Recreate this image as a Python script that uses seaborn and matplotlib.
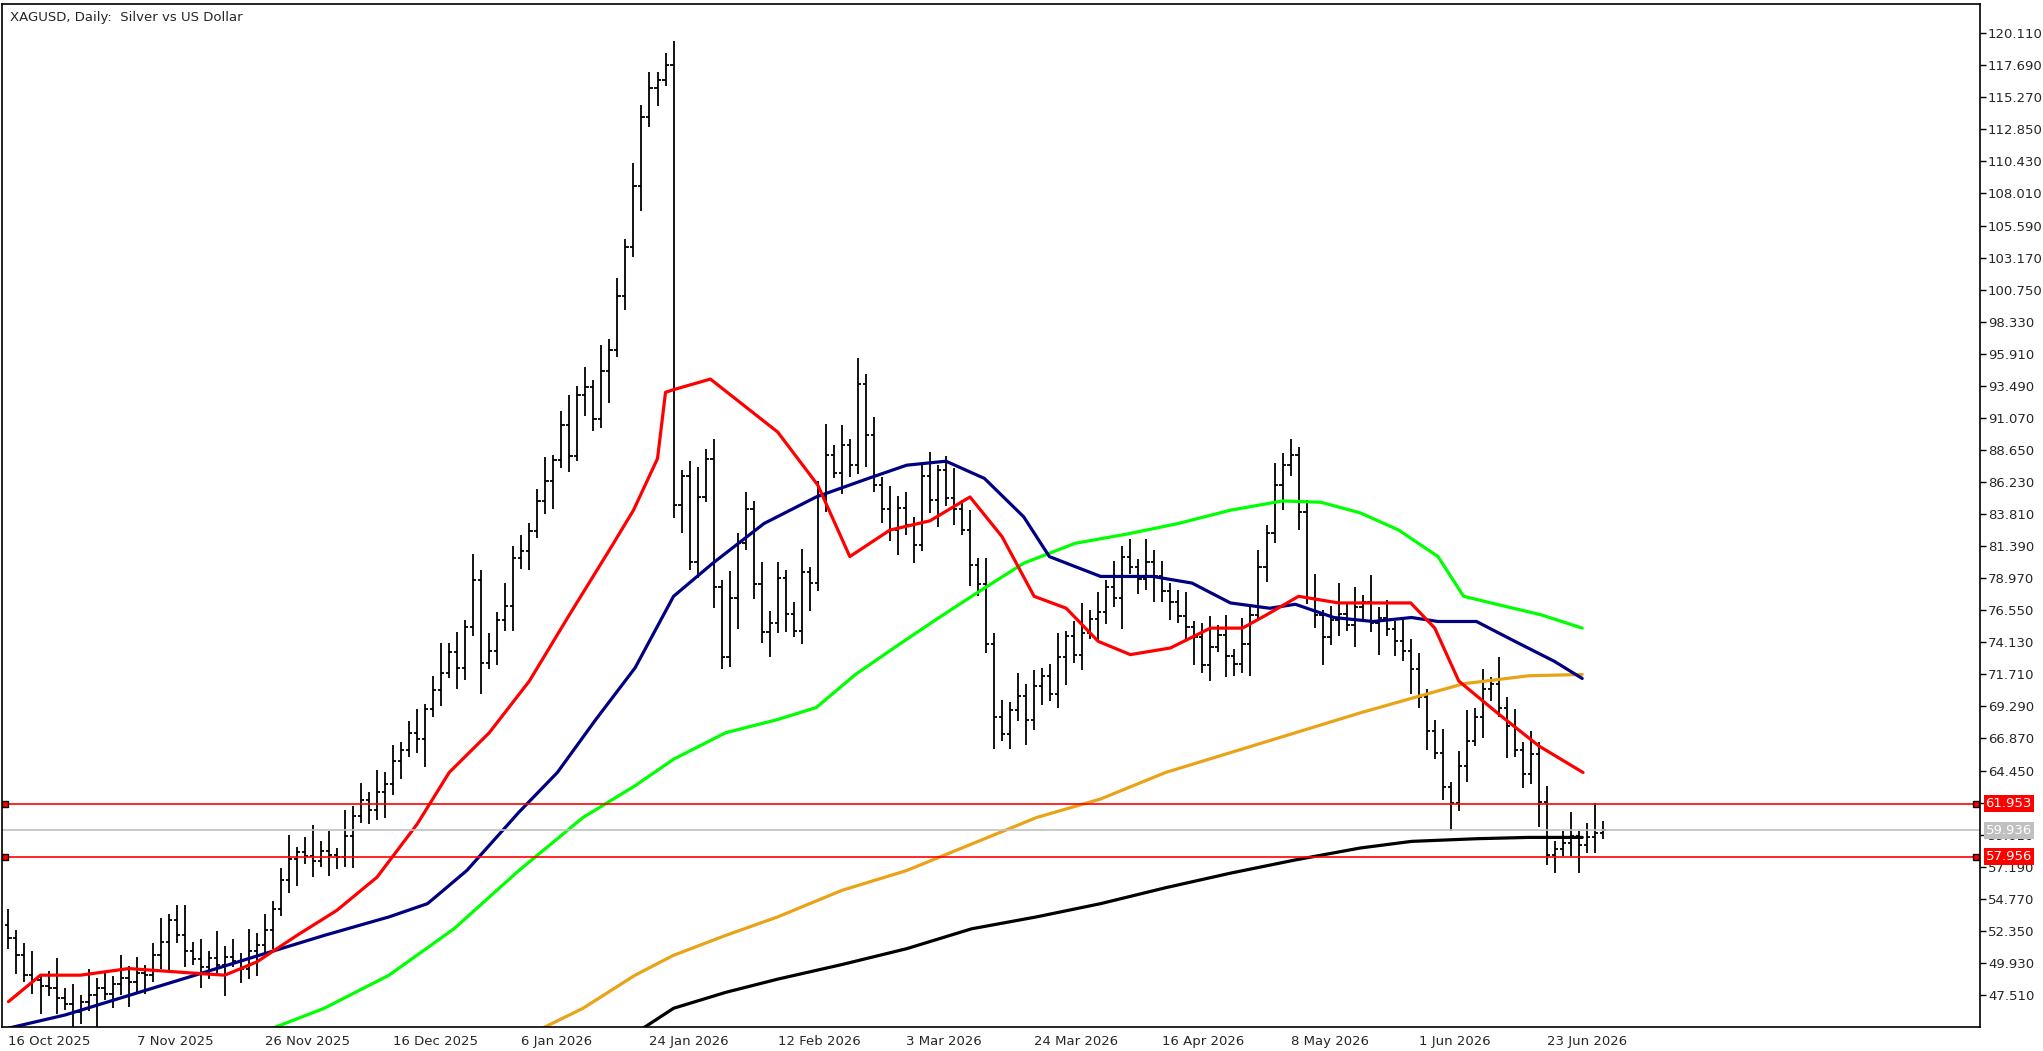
import numpy as np
import pandas as pd
import matplotlib
matplotlib.use('Agg')
import matplotlib.pyplot as plt
import seaborn as sns

# Daily closes of XAGUSD
closes = [51.8, 50.5, 49.0, 48.6, 48.2, 48.0, 47.3, 46.8, 46.2, 47.0, 47.5, 48.0, 47.6, 48.3, 48.8, 48.5,
          49.2, 49.0, 50.5, 51.5, 53.2, 52.0, 50.8, 50.2, 49.6, 50.3, 49.8, 50.4, 50.1, 49.5, 50.8, 51.3,
          52.4, 54.0, 56.2, 57.8, 58.3, 58.0, 57.6, 58.4, 58.1, 57.9, 59.5, 61.0, 62.2, 61.5, 62.8, 63.4,
          65.2, 66.0, 67.3, 66.8, 69.1, 70.5, 71.8, 73.4, 72.2, 75.3, 78.8, 72.6, 73.5, 75.8, 76.9, 80.5,
          81.0, 82.5, 84.8, 86.3, 87.9, 90.5, 88.2, 92.8, 93.4, 91.0, 94.6, 96.2, 100.3, 104.0, 108.6, 113.8,
          116.0, 116.6, 117.7, 84.5, 86.7, 80.2, 85.1, 88.0, 78.3, 73.0, 77.5, 81.6, 84.2, 78.5, 74.9, 75.6,
          79.0, 76.3, 75.0, 79.4, 78.6, 85.2, 88.3, 86.9, 89.0, 87.5, 93.6, 89.8, 86.0, 84.2, 82.6, 84.3,
          83.0, 81.5, 86.7, 84.9, 87.1, 85.0, 84.2, 82.6, 80.0, 78.5, 74.0, 68.5, 67.2, 69.0, 70.1, 68.3,
          70.8, 71.6, 70.2, 73.0, 74.6, 73.2, 74.8, 75.9, 76.4, 78.3, 77.5, 80.6, 79.8, 78.9, 80.2, 79.1,
          78.0, 77.2, 76.1, 75.3, 74.5, 72.4, 73.8, 74.7, 73.1, 72.5, 74.0, 76.2, 79.8, 82.4, 86.0, 87.5,
          88.3, 84.0, 77.5, 76.2, 74.5, 75.8, 76.3, 75.4, 76.8, 77.2, 75.6, 76.0, 75.1, 74.2, 73.5, 72.1,
          70.0, 67.4, 65.8, 63.2, 62.0, 64.8, 66.7, 68.5, 70.6, 71.0, 69.2, 67.8, 66.0, 64.2, 65.7, 62.1,
          58.1, 58.5, 59.0, 59.5, 58.8, 59.4, 59.7, 59.94]
first_open = 52.8
wick_up = [1.2, 0.6, 0.9, 1.8, 0.4, 1.1, 2.3, 0.7, 1.5, 0.5, 2.0, 0.8, 1.3, 0.6, 1.7, 0.9]
wick_dn = [0.8, 1.4, 0.5, 1.0, 2.1, 0.6, 1.2, 0.4, 1.6, 0.9, 0.7, 2.4, 0.5, 1.1, 0.8, 1.9]

# Moving averages: (bar index, price) samples
red_x = [0, 4, 9, 15, 22, 27, 31, 36, 41, 46, 51, 55, 60, 65, 70, 75, 78, 81, 82, 83, 87.6, 96, 101, 105,
         110, 115, 120, 124, 128, 132, 136, 140, 145, 150, 154, 157, 161, 166, 170, 175, 178, 181, 186, 191, 196.5]
red_y = [47.0, 49.0, 49.0, 49.5, 49.2, 49.0, 50.0, 52.0, 53.9, 56.4, 60.4, 64.3, 67.3, 71.2, 76.2, 81.1, 84.1,
         88.0, 93.0, 93.2, 94.0, 90.0, 86.0, 80.6, 82.6, 83.3, 85.1, 82.1, 77.6, 76.7, 74.2, 73.2, 73.7, 75.2,
         75.2, 76.2, 77.6, 77.1, 77.1, 77.1, 75.2, 71.2, 68.7, 66.3, 64.3]
blue_x = [0, 7.1, 15.2, 23.3, 31.3, 39.4, 47.5, 52.3, 57.2, 63.7, 68.5, 73.3, 78.2, 83.0, 87.9, 94.3, 100.8,
          107.3, 112.1, 117.0, 121.8, 126.7, 129.9, 136.3, 142.8, 147.7, 152.5, 157.4, 160.6, 165.4, 170.3,
          175.1, 178.4, 183.2, 188.0, 192.9, 196.4]
blue_y = [45.0, 46.0, 47.5, 49.0, 50.5, 52.0, 53.4, 54.4, 56.9, 61.3, 64.3, 68.3, 72.2, 77.6, 80.1, 83.1, 85.1,
          86.5, 87.5, 87.8, 86.5, 83.6, 80.6, 79.1, 79.1, 78.6, 77.1, 76.7, 77.0, 76.0, 75.7, 76.0, 75.7,
          75.7, 74.2, 72.7, 71.4]
green_x = [31.3, 39.4, 47.5, 55.6, 63.7, 71.7, 78.2, 83.0, 89.5, 96.0, 100.8, 105.7, 110.5, 115.4, 120.2,
           126.7, 133.1, 139.6, 146.0, 152.5, 159.0, 163.8, 168.7, 173.5, 178.4, 181.6, 186.4, 191.3, 196.4]
green_y = [44.6, 46.5, 49.0, 52.5, 56.9, 60.9, 63.3, 65.3, 67.3, 68.3, 69.2, 71.7, 73.7, 75.7, 77.6, 80.1,
           81.6, 82.3, 83.1, 84.1, 84.8, 84.7, 83.9, 82.6, 80.6, 77.6, 76.9, 76.2, 75.2]
orange_x = [65.3, 71.7, 78.2, 83.0, 89.5, 96.0, 104.0, 112.1, 120.2, 128.3, 136.3, 144.4, 152.5, 160.6,
            168.7, 175.1, 181.6, 189.7, 196.4]
orange_y = [44.6, 46.5, 49.0, 50.5, 52.0, 53.4, 55.4, 56.9, 58.9, 60.9, 62.3, 64.3, 65.8, 67.3, 68.8, 69.9,
            71.0, 71.6, 71.7]
black_x = [78.2, 83.0, 89.5, 96.0, 104.0, 112.1, 120.2, 128.3, 136.3, 144.4, 152.5, 160.6, 168.7, 175.1,
           183.2, 189.7, 196.4]
black_y = [44.6, 46.5, 47.7, 48.7, 49.8, 51.0, 52.5, 53.4, 54.4, 55.6, 56.7, 57.7, 58.6, 59.1, 59.3, 59.4, 59.4]

date_labels = ['16 Oct 2025', '7 Nov 2025', '26 Nov 2025', '16 Dec 2025', '6 Jan 2026', '24 Jan 2026',
               '12 Feb 2026', '3 Mar 2026', '24 Mar 2026', '16 Apr 2026', '8 May 2026', '1 Jun 2026', '23 Jun 2026']
price_ticks = [47.510, 49.930, 52.350, 54.770, 57.190, 59.610, 62.030, 64.450, 66.870, 69.290, 71.710,
               74.130, 76.550, 78.970, 81.390, 83.810, 86.230, 88.650, 91.070, 93.490, 95.910, 98.330,
               100.750, 103.170, 105.590, 108.010, 110.430, 112.850, 115.270, 117.690, 120.110]
level_hi, level_bid, level_lo = 61.953, 59.936, 57.956

sns.set_style('white')
plt.rcParams['font.family'] = ['DejaVu Sans']

fig = plt.figure(figsize=(20.43, 10.51), dpi=100)
ax = fig.add_axes([0.001, 0.023, 0.968, 0.973])

n = len(closes)
x = np.arange(n)
c = np.array(closes)
o = np.concatenate([[first_open], c[:-1]])
hi = np.maximum(o, c) + np.array([wick_up[i % len(wick_up)] for i in range(n)])
lo = np.minimum(o, c) - np.array([wick_dn[i % len(wick_dn)] for i in range(n)])

ax.vlines(x, lo, hi, color='black', lw=1.3)
ax.hlines(o, x - 0.4, x, color='black', lw=1.3)
ax.hlines(c, x, x + 0.4, color='black', lw=1.3)

for xs, ys, col in [(black_x, black_y, 'black'), (orange_x, orange_y, '#e8a317'),
                    (green_x, green_y, '#00ff00'), (blue_x, blue_y, '#000080'), (red_x, red_y, 'red')]:
    sns.lineplot(x=xs, y=ys, color=col, lw=2.3, ax=ax, sort=False)

ax.axhline(level_bid, color='#c0c0c0', lw=1.2)
ax.axhline(level_hi, color='red', lw=1.2)
ax.axhline(level_lo, color='red', lw=1.2)

xmax = 246
ax.set_xlim(-0.8, xmax)
ax.set_ylim(45.1, 122.3)
for lvl in (level_hi, level_lo):
    ax.plot([-0.4, xmax - 0.5], [lvl, lvl], ls='none', marker='s', ms=5, mfc='red', mec='black')

ax.yaxis.tick_right()
ax.set_yticks(price_ticks)
ax.set_yticklabels([f'{v:.3f}' for v in price_ticks], fontsize=9.5)
ax.set_xticks(np.arange(len(date_labels)) * 16)
ax.set_xticklabels(date_labels, fontsize=9.5, ha='left')
ax.tick_params(axis='both', length=4, width=1, direction='out', pad=2, color='black')
for s in ax.spines.values():
    s.set_color('black')
    s.set_linewidth(1.2)

for lvl, bg in [(level_bid, '#c0c0c0'), (level_hi, 'red'), (level_lo, 'red')]:
    ax.text(1.003, lvl, f'{lvl:.3f}', transform=ax.get_yaxis_transform(), fontsize=9.5, color='white',
            va='center', ha='left', bbox=dict(boxstyle='square,pad=0.15', fc=bg, ec='none'))

ax.text(0.004, 0.993, 'XAGUSD, Daily:  Silver vs US Dollar', transform=ax.transAxes,
        fontsize=9.5, va='top', ha='left')

fig.savefig('out.png', dpi=100)
